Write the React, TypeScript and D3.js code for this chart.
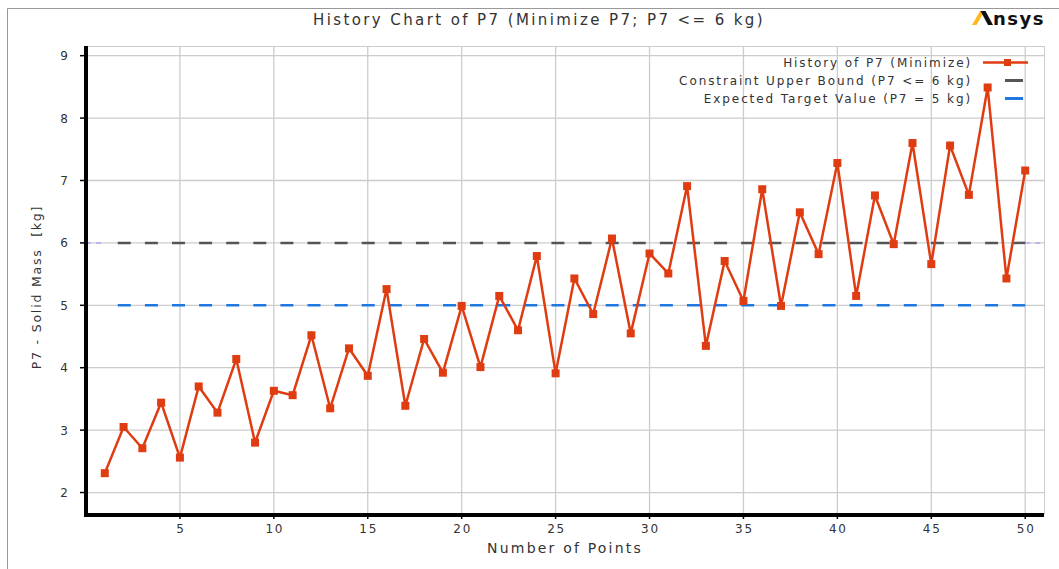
import React from "react";
import * as d3 from "d3";

// History of P7 (kg) for each evaluated design point
const pointIndex: number[] = Array.from({ length: 50 }, (_, i) => i + 1);
const p7History: number[] = [
  2.31, 3.05, 2.71, 3.44, 2.56, 3.70, 3.28, 4.14, 2.80, 3.63,
  3.56, 4.52, 3.35, 4.31, 3.87, 5.26, 3.39, 4.46, 3.92, 4.99,
  4.01, 5.15, 4.60, 5.79, 3.91, 5.43, 4.86, 6.07, 4.55, 5.83,
  5.51, 6.91, 4.35, 5.71, 5.07, 6.86, 4.99, 6.49, 5.82, 7.28,
  5.15, 6.76, 5.98, 7.60, 5.66, 7.56, 6.77, 8.49, 5.43, 7.16,
];
const upperBound = 6;
const targetValue = 5;
const xTicks: number[] = [5, 10, 15, 20, 25, 30, 35, 40, 45, 50];
const yTicks: number[] = [2, 3, 4, 5, 6, 7, 8, 9];
const legendLabels: string[] = [
  "History of P7 (Minimize)",
  "Constraint Upper Bound (P7 <= 6 kg)",
  "Expected Target Value (P7 = 5 kg)",
];

const W = 1059;
const H = 569;
const FONT = "DejaVu Sans, Verdana, sans-serif";
const RED = "#e03c12";
const GRAY = "#555555";
const BLUE = "#1f78e0";
const GRID = "#cccccc";
const TEXT = "#333";

const plot = { left: 86, right: 1044, top: 46, bottom: 515 };

export default function App() {
  const x = d3.scaleLinear().domain([0, 51]).range([plot.left, plot.right]);
  const y = d3.scaleLinear().domain([1.64, 9.155]).range([plot.bottom, plot.top]);

  const line = d3
    .line<number>()
    .x((_, i) => x(pointIndex[i]))
    .y((d) => y(d));

  const first = pointIndex[0];
  const last = pointIndex[pointIndex.length - 1];

  // dashed reference lines: 34 dashes that begin after one gap and end on the last point
  const span = x(last) - x(first);
  const dash = 13;
  const gap = (span - 2 * dash) / 33 - dash;
  const dashArray = `${dash},${gap}`;

  return (
    <svg
      width={W}
      height={H}
      style={{ position: "absolute", left: 0, top: 0, background: "#fff" }}
      fontFamily={FONT}
    >
      {/* outer frame */}
      <line x1={7.5} y1={8.5} x2={W} y2={8.5} stroke="#999" strokeWidth={1} />
      <line x1={7.5} y1={8.5} x2={7.5} y2={H} stroke="#999" strokeWidth={1} />

      <text x={539} y={25} textAnchor="middle" fontSize={15} letterSpacing={2.4} fill={TEXT}>
        History Chart of P7 (Minimize P7; P7 &lt;= 6 kg)
      </text>

      {/* logo */}
      <g transform="translate(972,11)">
        <polygon points="0,14 4.5,14 12.5,0 8,0" fill="#ffb71b" />
        <polygon points="8.5,0 13.5,0 21,14 16,14" fill="#111" />
        <text x={21} y={14} fontSize={18} fontWeight="bold" letterSpacing={1.5} fill="#111" fontFamily="DejaVu Sans">
          nsys
        </text>
      </g>

      {/* grid */}
      <line x1={plot.left} y1={plot.top + 0.5} x2={plot.right} y2={plot.top + 0.5} stroke={GRID} />
      <line x1={plot.right + 0.5} y1={plot.top} x2={plot.right + 0.5} y2={plot.bottom} stroke={GRID} />
      {xTicks.map((t) => (
        <line key={"gx" + t} x1={x(t)} x2={x(t)} y1={plot.top} y2={plot.bottom} stroke={GRID} strokeWidth={1.3} />
      ))}
      {yTicks.map((t) => (
        <line key={"gy" + t} x1={plot.left} x2={plot.right} y1={y(t)} y2={y(t)} stroke={GRID} strokeWidth={1.3} />
      ))}

      {/* reference lines */}
      <line x1={x(0)} x2={x(first)} y1={y(upperBound)} y2={y(upperBound)} stroke="#b8b8f0" strokeWidth={2} strokeDasharray="5,5" />
      <line x1={x(last)} x2={x(51)} y1={y(upperBound)} y2={y(upperBound)} stroke="#b8b8f0" strokeWidth={2} strokeDasharray="5,5" />
      <line
        x1={x(first)}
        x2={x(last)}
        y1={y(upperBound)}
        y2={y(upperBound)}
        stroke={GRAY}
        strokeWidth={2.5}
        strokeDasharray={dashArray}
        strokeDashoffset={-dash}
      />
      <line
        x1={x(first)}
        x2={x(last)}
        y1={y(targetValue)}
        y2={y(targetValue)}
        stroke={BLUE}
        strokeWidth={2.5}
        strokeDasharray={dashArray}
        strokeDashoffset={-dash}
      />

      {/* history series */}
      <path d={line(p7History) || ""} fill="none" stroke={RED} strokeWidth={2.5} strokeLinejoin="miter" />
      {p7History.map((v, i) => (
        <rect key={"m" + i} x={x(pointIndex[i]) - 4} y={y(v) - 4} width={8} height={8} fill={RED} />
      ))}

      {/* axes */}
      <line x1={plot.left} x2={plot.left} y1={plot.top} y2={plot.bottom + 2} stroke="#000" strokeWidth={4} />
      <line x1={plot.left - 2} x2={plot.right} y1={plot.bottom} y2={plot.bottom} stroke="#000" strokeWidth={4} />
      {yTicks.map((t) => (
        <g key={"ty" + t}>
          <line x1={plot.left - 6} x2={plot.left} y1={y(t)} y2={y(t)} stroke="#000" strokeWidth={1.5} />
          <text x={68} y={y(t) + 4.5} textAnchor="end" fontSize={12} fill={TEXT}>
            {t}
          </text>
        </g>
      ))}
      {xTicks.map((t) => (
        <g key={"tx" + t}>
          <line x1={x(t)} x2={x(t)} y1={plot.bottom} y2={plot.bottom + 4} stroke="#000" strokeWidth={1.5} />
          <text x={x(t) + 1} y={533} textAnchor="middle" fontSize={12} letterSpacing={1.8} fill={TEXT}>
            {t}
          </text>
        </g>
      ))}

      <text x={565} y={553} textAnchor="middle" fontSize={14} letterSpacing={2.2} fill={TEXT}>
        Number of Points
      </text>
      <text
        transform={`translate(41,${287}) rotate(-90)`}
        textAnchor="middle"
        fontSize={12.5}
        letterSpacing={1.8}
        fill={TEXT}
        style={{ whiteSpace: "pre" }}
      >
        P7 - Solid Mass  [kg]
      </text>

      {/* legend */}
      {legendLabels.map((lab, i) => (
        <text key={"l" + i} x={972} y={66.5 + i * 18} textAnchor="end" fontSize={12} letterSpacing={1.9} fill={TEXT}>
          {lab}
        </text>
      ))}
      <line x1={983} x2={1028} y1={62.5} y2={62.5} stroke={RED} strokeWidth={2.5} />
      <rect x={1004} y={59} width={7} height={7} fill={RED} />
      <line x1={1005} x2={1023} y1={80.5} y2={80.5} stroke={GRAY} strokeWidth={3} />
      <line x1={1005} x2={1023} y1={98.5} y2={98.5} stroke={BLUE} strokeWidth={3} />
    </svg>
  );
}
